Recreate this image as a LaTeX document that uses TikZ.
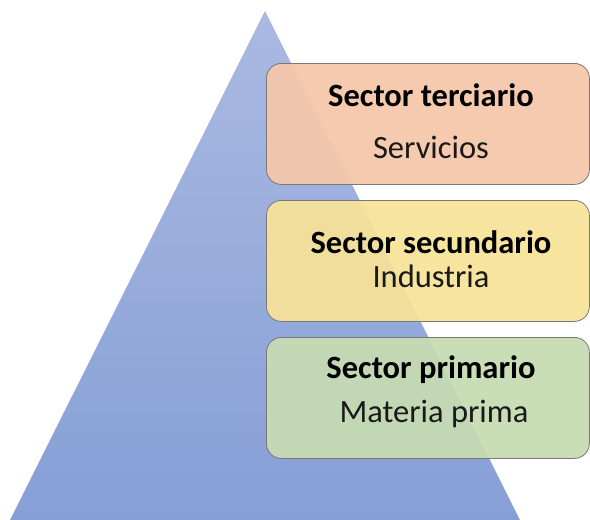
\documentclass[tikz,border=0pt]{standalone}
\usepackage{fontspec}
\setmainfont{Carlito}
\definecolor{triTop}{RGB}{170,185,226}
\definecolor{triBot}{RGB}{134,159,214}
\definecolor{boxOrange}{RGB}{244,199,170}
\definecolor{boxYellow}{RGB}{247,226,153}
\definecolor{boxGreen}{RGB}{198,220,178}
\definecolor{boxLine}{RGB}{120,120,120}
\tikzset{
  sectorbox/.style={draw=boxLine, line width=0.8pt, rounded corners=15pt, fill opacity=0.94,
    minimum width=323pt, minimum height=121pt, inner sep=0pt, anchor=north west},
  titletext/.style={anchor=base, font=\fontsize{32.5}{34}\selectfont\bfseries, text=black, inner sep=0pt},
  subtext/.style={anchor=base, font=\fontsize{32.5}{34}\selectfont, text=black!90, inner sep=0pt}
}
\begin{document}
\begin{tikzpicture}[x=1pt,y=-1pt]
\useasboundingbox (0,0) rectangle (590,520);
\shade[top color=triTop, bottom color=triBot] (265,11) -- (520,520) -- (10,520) -- cycle;
\node[sectorbox, fill=boxOrange] (b3) at (266,63) {};
\node[sectorbox, fill=boxYellow] (b2) at (266,200) {};
\node[sectorbox, fill=boxGreen] (b1) at (266,337) {};
\node[titletext] (t3) at (431,106) {Sector terciario};
\node[subtext] (s3) at (431,158) {Servicios};
\node[titletext] (t2) at (431,253) {Sector secundario};
\node[subtext] (s2) at (431,287) {Industria};
\node[titletext] (t1) at (431,378) {Sector primario};
\node[subtext] (s1) at (434,422) {Materia prima};
\end{tikzpicture}
\end{document}
